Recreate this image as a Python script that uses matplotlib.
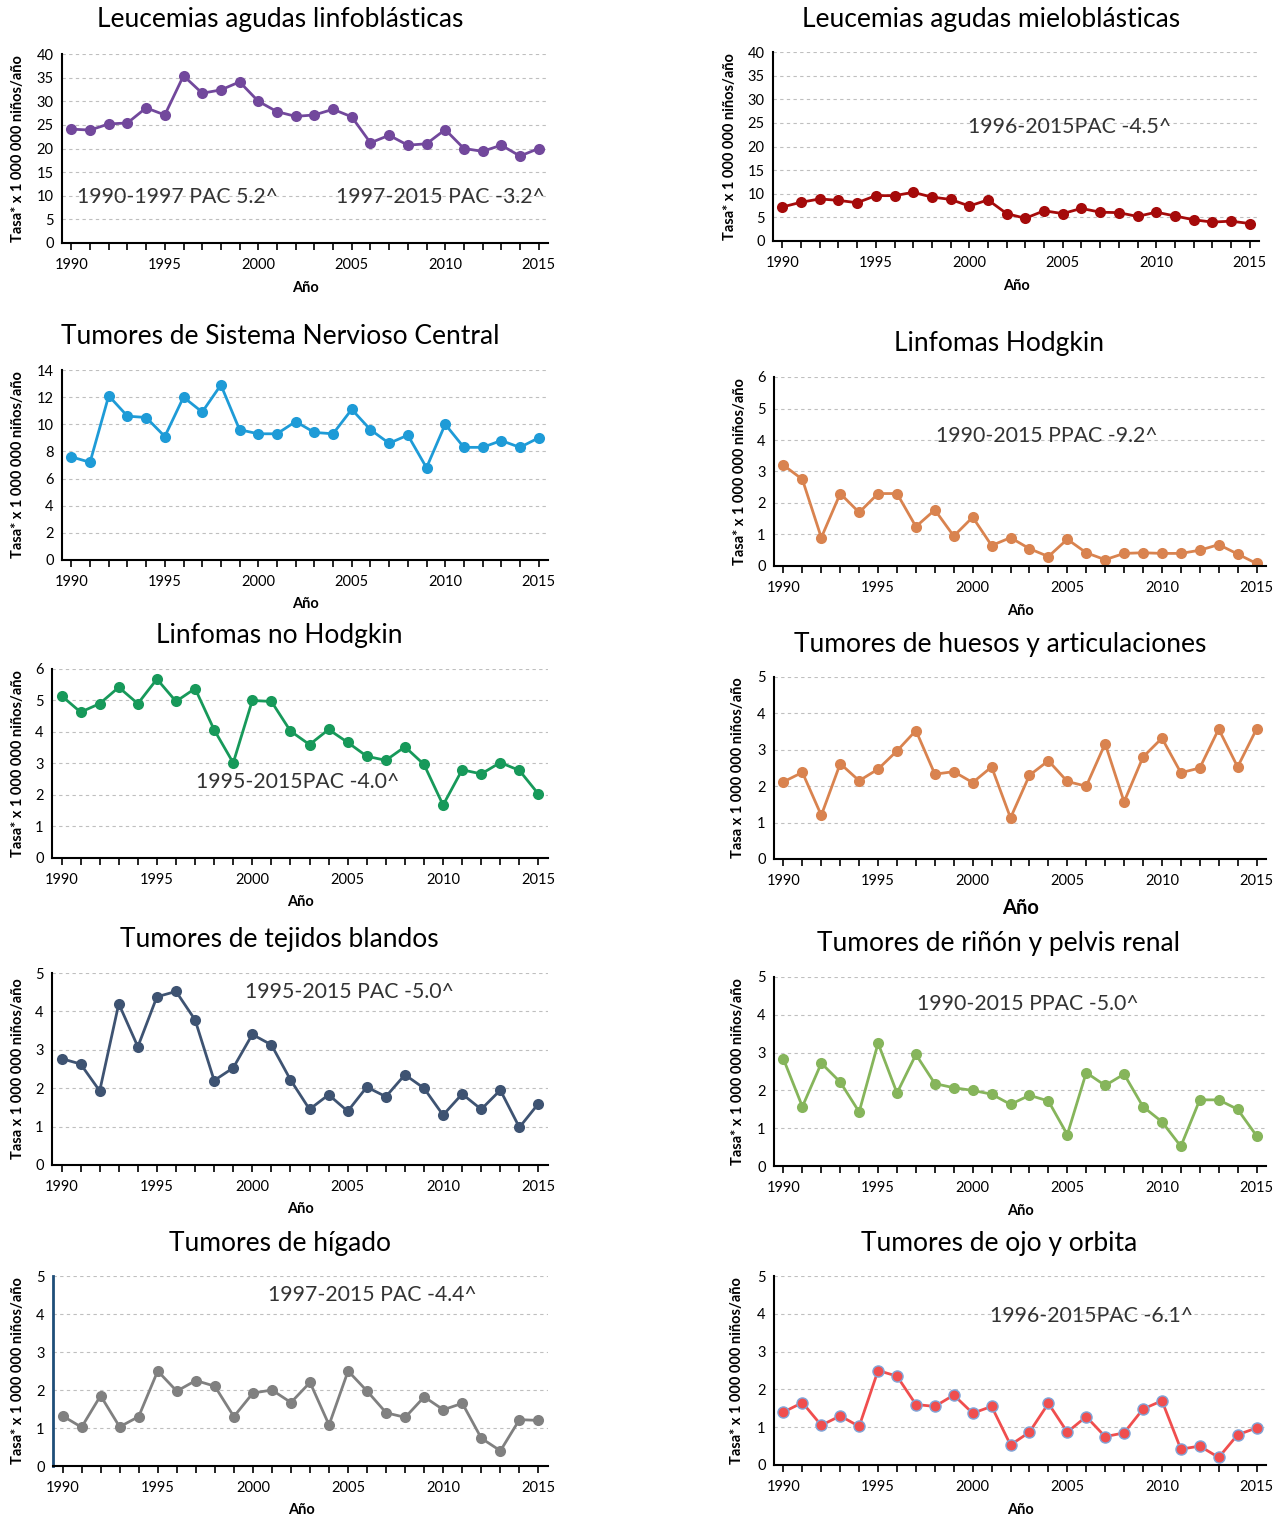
import numpy as np
import matplotlib
matplotlib.use("Agg")
import matplotlib.pyplot as plt

plt.rcParams['font.family'] = ['Lato', 'DejaVu Sans']

years = np.arange(1990, 2016)

# tasas anuales por grupo diagnóstico
lla = [24.1, 23.9, 25.2, 25.4, 28.6, 27.1, 35.4, 31.7, 32.4, 34.1, 30.0, 27.8, 26.8,
       27.1, 28.3, 26.7, 21.2, 22.8, 20.7, 21.0, 24.0, 20.0, 19.4, 20.7, 18.4, 20.0]
lma = [7.2, 8.2, 8.9, 8.6, 8.1, 9.6, 9.6, 10.3, 9.3, 8.8, 7.4, 8.7, 5.8,
       4.8, 6.4, 5.8, 6.9, 6.1, 6.0, 5.2, 6.1, 5.3, 4.5, 4.0, 4.2, 3.7]
snc = [7.6, 7.2, 12.1, 10.6, 10.5, 9.1, 12.0, 10.9, 12.9, 9.6, 9.3, 9.3, 10.2,
       9.4, 9.3, 11.1, 9.6, 8.6, 9.2, 6.8, 10.0, 8.3, 8.3, 8.8, 8.3, 9.0]
hodgkin = [3.2, 2.75, 0.9, 2.3, 1.7, 2.3, 2.3, 1.25, 1.78, 0.95, 1.55, 0.65, 0.9,
           0.55, 0.3, 0.85, 0.42, 0.2, 0.4, 0.42, 0.4, 0.4, 0.5, 0.68, 0.38, 0.08]
no_hodgkin = [5.15, 4.63, 4.9, 5.42, 4.9, 5.68, 4.97, 5.38, 4.07, 3.02, 5.0, 4.97, 4.03,
              3.6, 4.08, 3.67, 3.23, 3.1, 3.53, 2.97, 1.68, 2.8, 2.67, 3.03, 2.78, 2.03]
huesos = [2.12, 2.38, 1.2, 2.62, 2.15, 2.47, 2.97, 3.53, 2.33, 2.4, 2.1, 2.53, 1.13,
          2.3, 2.7, 2.13, 2.0, 3.17, 1.57, 2.8, 3.32, 2.37, 2.5, 3.57, 2.53, 3.57]
blandos = [2.77, 2.63, 1.93, 4.2, 3.08, 4.38, 4.52, 3.78, 2.2, 2.53, 3.4, 3.13, 2.22,
           1.45, 1.83, 1.4, 2.03, 1.78, 2.35, 2.0, 1.3, 1.85, 1.45, 1.95, 0.98, 1.6]
rinon = [2.83, 1.57, 2.72, 2.22, 1.43, 3.25, 1.93, 2.95, 2.18, 2.07, 2.0, 1.9, 1.63,
         1.87, 1.72, 0.83, 2.47, 2.13, 2.43, 1.57, 1.17, 0.52, 1.75, 1.75, 1.5, 0.8]
higado = [1.32, 1.02, 1.85, 1.03, 1.3, 2.5, 1.97, 2.25, 2.1, 1.3, 1.92, 2.0, 1.67,
          2.2, 1.08, 2.5, 1.97, 1.4, 1.28, 1.82, 1.48, 1.65, 0.73, 0.4, 1.22, 1.2]
ojo = [1.4, 1.65, 1.05, 1.3, 1.02, 2.5, 2.35, 1.6, 1.55, 1.85, 1.37, 1.55, 0.53,
       0.87, 1.63, 0.87, 1.28, 0.75, 0.85, 1.48, 1.7, 0.42, 0.5, 0.2, 0.8, 0.98]

W, H = 1283, 1518
fig = plt.figure(figsize=(W / 100, H / 100), dpi=100)

lab1 = 'Tasa* x 1 000 000 niños/año'
lab2 = 'Tasa x 1 000 000 niños/año'

# (datos, color, borde marcador, ymax, paso, título, caja px, título px, ylabel, ylabel x, Año px, tamaño Año, notas)
panels = [
    (lla, '#72489C', None, 40, 5, 'Leucemias agudas linfoblásticas', (62, 54, 548, 243), (280, 20),
     lab1, 18, (305, 288), 10.5, [('1990-1997 PAC 5.2^', 0.237, 0.243), ('1997-2015 PAC -3.2^', 0.778, 0.243)]),
    (lma, '#A50A0A', None, 40, 5, 'Leucemias agudas mieloblásticas', (773, 52, 1259, 241), (991, 19),
     lab1, 730, (1016, 286), 10.5, [('1996-2015PAC -4.5^', 0.61, 0.603)]),
    (snc, '#1E9BD7', None, 14, 2, 'Tumores de Sistema Nervioso Central', (62, 370, 548, 560), (280, 337),
     lab1, 18, (305, 604), 10.5, []),
    (hodgkin, '#D9834F', None, 6, 1, 'Linfomas Hodgkin', (774, 377, 1266, 566), (999, 344),
     lab1, 740, (1020, 611), 10.5, [('1990-2015 PPAC -9.2^', 0.555, 0.688)]),
    (no_hodgkin, '#17995A', None, 6, 1, 'Linfomas no Hodgkin', (52, 669, 548, 858), (279, 636),
     lab1, 18, (300, 902), 10.5, [('1995-2015PAC -4.0^', 0.496, 0.402)]),
    (huesos, '#D9834F', None, 5, 1, 'Tumores de huesos y articulaciones', (774, 677, 1266, 859), (1000, 644),
     lab2, 738, (1021, 908), 14.5, []),
    (blandos, '#3E5372', None, 5, 1, 'Tumores de tejidos blandos', (52, 973, 548, 1165), (279, 940),
     lab2, 18, (300, 1209), 10.5, [('1995-2015 PAC -5.0^', 0.60, 0.90)]),
    (rinon, '#86B55B', None, 5, 1, 'Tumores de riñón y pelvis renal', (774, 977, 1266, 1166), (999, 944),
     lab1, 738, (1020, 1211), 10.5, [('1990-2015 PPAC -5.0^', 0.515, 0.857)]),
    (higado, '#808080', None, 5, 1, 'Tumores de hígado', (53, 1276, 548, 1466), (280, 1244),
     lab1, 18, (301, 1510), 10.5, [('1997-2015 PAC -4.4^', 0.646, 0.90)]),
    (ojo, '#F04E4E', '#7FA6DA', 5, 1, 'Tumores de ojo y orbita', (774, 1276, 1266, 1465), (999, 1243),
     lab1, 737, (1020, 1510), 10.5, [('1996-2015PAC -6.1^', 0.646, 0.788)]),
]

for i, (vals, color, edge, ymax, step, title, box, tpos, ylab, ylx, apos, asize, notes) in enumerate(panels):
    l, t, r, b = box
    ax = fig.add_axes([l / W, 1 - b / H, (r - l) / W, (b - t) / H])
    ax.plot(years, vals, color=color, lw=2, marker='o', ms=8,
            mfc=color, mec=edge if edge else color, mew=1 if edge else 0)
    ax.set_xlim(1989.5, 2015.5)
    ax.set_ylim(0, ymax)
    ax.set_yticks(np.arange(0, ymax + step / 2, step))
    ax.set_xticks(years)
    ax.set_xticklabels([str(y) if y % 5 == 0 else '' for y in years])
    ax.grid(axis='y', ls=(0, (3, 3)), color='#BFBFBF', lw=0.8)
    ax.set_axisbelow(True)
    for s in ['top', 'right']:
        ax.spines[s].set_visible(False)
    ax.spines['bottom'].set_linewidth(1.5)
    ax.spines['left'].set_linewidth(1.5)
    if i == 8:
        ax.spines['left'].set_color('#1F4E79')
        ax.spines['left'].set_linewidth(2)
    ax.tick_params(axis='x', length=5, width=1.2, labelsize=10.5, pad=6)
    ax.tick_params(axis='y', length=0, labelsize=10.5, pad=6)

    fig.text(tpos[0] / W, 1 - tpos[1] / H, title, ha='center', va='center', fontsize=19)
    fig.text(ylx / W, 1 - (t + b) / 2 / H, ylab, rotation=90, ha='center', va='center',
             fontsize=10.5, fontweight='bold')
    fig.text(apos[0] / W, 1 - apos[1] / H, 'Año', ha='center', va='center',
             fontsize=asize, fontweight='bold')
    for txt, fx, fy in notes:
        ax.text(fx, fy, txt, transform=ax.transAxes, ha='center', va='center',
                fontsize=15.3, color='#333333')

fig.savefig('out.png', dpi=100, facecolor='white')
